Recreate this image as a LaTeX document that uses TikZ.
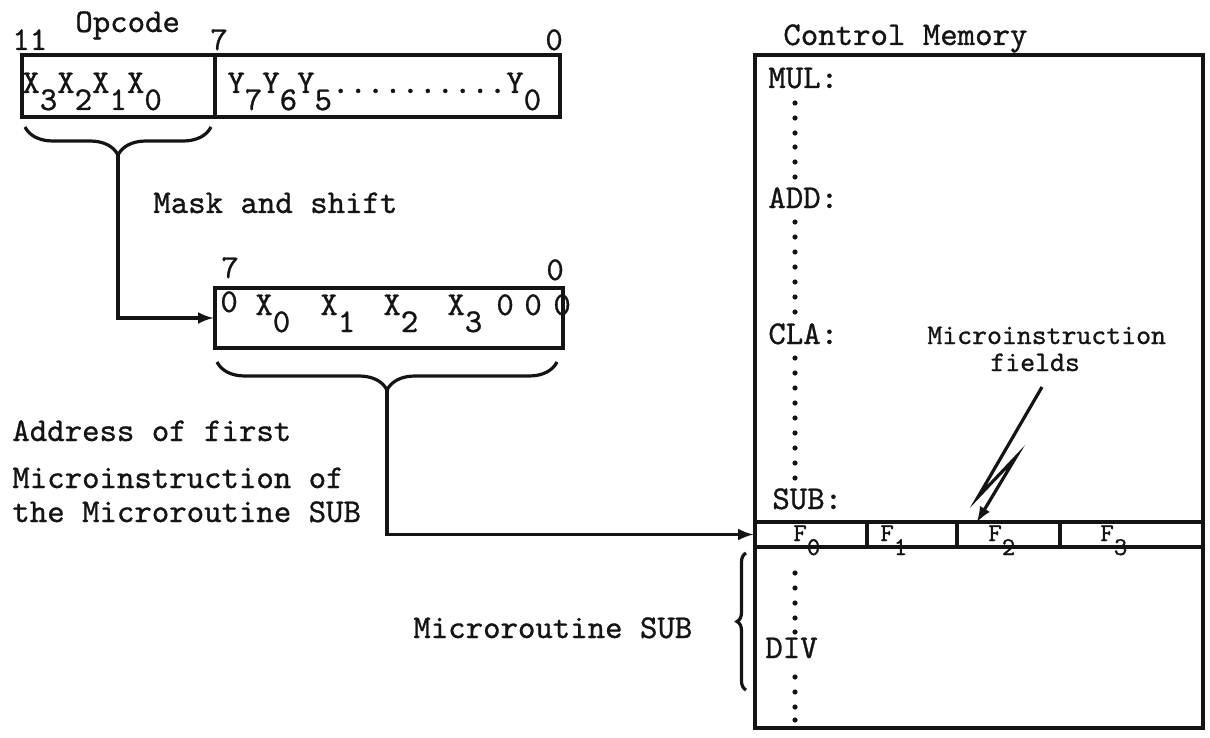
\documentclass[tikz,border=0pt]{standalone}
\usepackage{fontspec}
\newfontfamily\twfont[FakeBold=0.9]{lmmono10-regular.otf}
\usepackage{tikz}
\usetikzlibrary{arrows, positioning, calc, decorations.pathreplacing}
\definecolor{inkblack}{RGB}{20,20,20}
\newcommand{\dn}[1]{\raisebox{-8.5pt}{#1}}
\newcommand{\fdn}[1]{\raisebox{-7pt}{#1}}
\tikzset{
    regbox/.style={draw=inkblack, line width=1.6pt, inner sep=0pt},
    tw/.style={font=\fontsize{16.6}{20}\selectfont\twfont, text=inkblack,
               inner sep=0pt, anchor=base west},
    twsmall/.style={tw, font=\fontsize{14.2}{17}\selectfont\twfont},
    twfield/.style={tw, font=\fontsize{12.8}{15}\selectfont\twfont},
    wire/.style={draw=inkblack, line width=1.6pt},
    curly/.style={draw=inkblack, line width=1.6pt, decorate,
                  decoration={brace, amplitude=#1}},
    memdot/.style={fill=inkblack}
}

\begin{document}
\begin{tikzpicture}[x=0.5pt, y=-0.5pt]
    \useasboundingbox (0,0) rectangle (1210,738);
    % Instruction register
    \node[regbox, minimum width=96.5pt, minimum height=31pt] (xpart) at (118.5,86) {};
    \node[regbox, minimum width=172.5pt, minimum height=31pt] (ypart) at (387.5,86) {};
    \node[tw] (xbits) at (22,93) {X\dn{3}X\dn{2}X\dn{1}X\dn{0}};
    \node[tw] (ybits) at (227,93) {Y\dn{7}Y\dn{6}Y\dn{5}..........Y\dn{0}};
    \node[tw] (opcode) at (75,32) {Opcode};
    \node[tw] (bit11) at (12,50) {11};
    \node[tw] (bit7) at (210,50) {7};
    \node[tw] (bit0) at (545,50) {0};
    % Shifted address register
    \node[regbox, minimum width=174pt, minimum height=30pt] (addr) at (389,318) {};
    \foreach \i/\x/\y/\t in {0/220/312/0, 1/255/315/X\dn{0}, 2/320/315/X\dn{1},
                             3/383/315/X\dn{2}, 4/447/315/X\dn{3}, 5/496/315/0,
                             6/524/315/0, 7/553/315/0} {
        \node[tw] (abit\i) at (\x,\y) {\t};
    }
    \node[tw] (abit7lbl) at (221,278) {7};
    \node[tw] (abit0lbl) at (546,280) {0};
    \node[tw] (mask) at (153,213) {Mask and shift};
    % Braces
    \draw[curly=14pt] (211,127) -- (25,127);
    \coordinate (xtip) at (118,155);
    \draw[curly=14pt] (557,362) -- (217,362);
    \coordinate (atip) at (387,390);
    % Control memory
    \node[regbox, minimum width=224pt, minimum height=336.5pt] (cmem) at (979,391.5) {};
    \node[tw] (cmemlbl) at (783,45) {Control Memory};
    \node[regbox, minimum width=224pt, minimum height=12.5pt] (frow) at (979,534.5) {};
    \foreach \x in {867,957,1060} {
        \draw[wire] (\x,522) -- (\x,547);
    }
    \foreach \name/\x/\k in {f0/793/0, f1/880/1, f2/988/2, f3/1100/3} {
        \node[twfield] (\name) at (\x,541) {F\fdn{\k}};
    }
    \foreach \name/\x/\y/\txt in {mul/768/88/MUL:, add/768/208/ADD:, cla/768/344/CLA:,
                                  sub/772/509/SUB:, div/765/658/DIV} {
        \node[tw] (\name) at (\x,\y) {\txt};
    }
    % Dots down the memory
    \foreach \y in {103,118,133,147,162,177, 222,237,252,267,282,297,312,
                    358,373,388,403,418,433,448,463,478,
                    573,588,603,618,632, 677,692,707,720} {
        \fill[memdot] (795,\y) circle (1.3pt);
    }
    \node[twsmall] (mfields1) at (927,344) {Microinstruction};
    \node[twsmall] (mfields2) at (990,371) {fields};
    % Lightning pointer
    \coordinate (bolt0) at (1042,387);
    \coordinate (bolt1) at (978,497);
    \coordinate (bolt2) at (1016,457);
    \coordinate (bolthit) at (977,522);
    \draw[wire, -latex] (bolt0) -- (bolt1) -- (bolt2) -- (bolthit);
    % Connections
    \draw[wire, -latex] (xtip) |- (addr.west);
    \draw[wire, -latex] (atip) |- (frow.west);
    \node[tw] (adr1) at (12,441) {Address of first};
    \node[tw] (adr2) at (12,488) {Microinstruction of};
    \node[tw] (adr3) at (12,522) {the Microroutine SUB};
    % Microroutine brace
    \draw[curly=4.5pt] (746,690) -- (746,553);
    \node[tw] (mroutine) at (413,638) {Microroutine SUB};
\end{tikzpicture}
\end{document}
